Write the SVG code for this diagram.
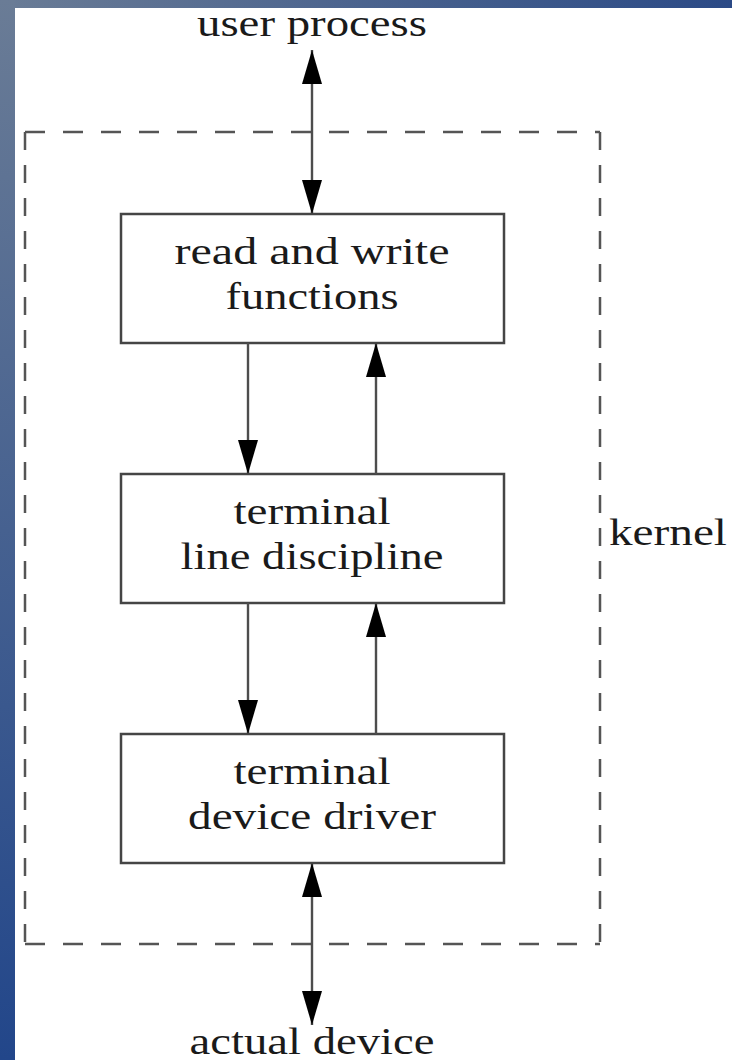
<svg xmlns="http://www.w3.org/2000/svg" width="732" height="1060" viewBox="0 0 732 1060">
  <defs>
    <linearGradient id="gTop" x1="0" y1="0" x2="1" y2="0">
      <stop offset="0" stop-color="#6a7c96"/>
      <stop offset="1" stop-color="#2b4a86"/>
    </linearGradient>
    <linearGradient id="gLeft" x1="0" y1="0" x2="0" y2="1">
      <stop offset="0" stop-color="#6a7c96"/>
      <stop offset="1" stop-color="#22468a"/>
    </linearGradient>
    <marker id="head" viewBox="0 0 34 20" refX="34" refY="10" markerWidth="34" markerHeight="20" markerUnits="userSpaceOnUse" orient="auto-start-reverse">
      <path d="M0,0 L34,10 L0,20 Z" fill="#000"/>
    </marker>
  </defs>
  <style>
    .lbl { font-family: "Liberation Serif", "Times New Roman", serif; font-size: 38px; fill: #1a1a1a; text-anchor: middle; }
    .box { fill: #fff; stroke: #454545; stroke-width: 2.5; }
    .conn { stroke: #4d4d4d; stroke-width: 2.4; fill: none; }
    .dash { stroke: #555; stroke-width: 2.5; fill: none; }
  </style>

  <rect x="0" y="0" width="732" height="1060" fill="#fff"/>
  <rect x="0" y="0" width="732" height="8" fill="url(#gTop)"/>
  <rect x="0" y="0" width="15" height="1060" fill="url(#gLeft)"/>

  <g id="kernel">
    <path class="dash" d="M25,132 H600" stroke-dasharray="20 18"/>
    <path class="dash" d="M25,944 H600" stroke-dasharray="20 18"/>
    <path class="dash" d="M25,132 V944" stroke-dasharray="18 15"/>
    <path class="dash" d="M600,132 V944" stroke-dasharray="18 15"/>
    <text class="lbl" x="668" y="545" textLength="118" lengthAdjust="spacingAndGlyphs">kernel</text>
  </g>

  <g id="user-process">
    <text class="lbl" x="312" y="36" textLength="230" lengthAdjust="spacingAndGlyphs">user process</text>
  </g>

  <g id="actual-device">
    <text class="lbl" x="312" y="1054" textLength="245" lengthAdjust="spacingAndGlyphs">actual device</text>
  </g>

  <g id="read-write">
    <rect class="box" x="121" y="214" width="383" height="129"/>
    <text class="lbl" x="312" y="264" textLength="275" lengthAdjust="spacingAndGlyphs">read and write</text>
    <text class="lbl" x="312" y="309" textLength="173" lengthAdjust="spacingAndGlyphs">functions</text>
  </g>

  <g id="line-discipline">
    <rect class="box" x="121" y="474" width="383" height="129"/>
    <text class="lbl" x="312" y="524" textLength="157" lengthAdjust="spacingAndGlyphs">terminal</text>
    <text class="lbl" x="312" y="569" textLength="263" lengthAdjust="spacingAndGlyphs">line discipline</text>
  </g>

  <g id="device-driver">
    <rect class="box" x="121" y="734" width="383" height="129"/>
    <text class="lbl" x="312" y="784" textLength="157" lengthAdjust="spacingAndGlyphs">terminal</text>
    <text class="lbl" x="312" y="829" textLength="248" lengthAdjust="spacingAndGlyphs">device driver</text>
  </g>

  <g id="connectors">
    <line class="conn" x1="312" y1="50" x2="312" y2="214" marker-start="url(#head)" marker-end="url(#head)"/>
    <line class="conn" x1="248" y1="343" x2="248" y2="474" marker-end="url(#head)"/>
    <line class="conn" x1="376" y1="474" x2="376" y2="343" marker-end="url(#head)"/>
    <line class="conn" x1="248" y1="603" x2="248" y2="734" marker-end="url(#head)"/>
    <line class="conn" x1="376" y1="734" x2="376" y2="603" marker-end="url(#head)"/>
    <line class="conn" x1="312" y1="863" x2="312" y2="1025" marker-start="url(#head)" marker-end="url(#head)"/>
  </g>
</svg>
